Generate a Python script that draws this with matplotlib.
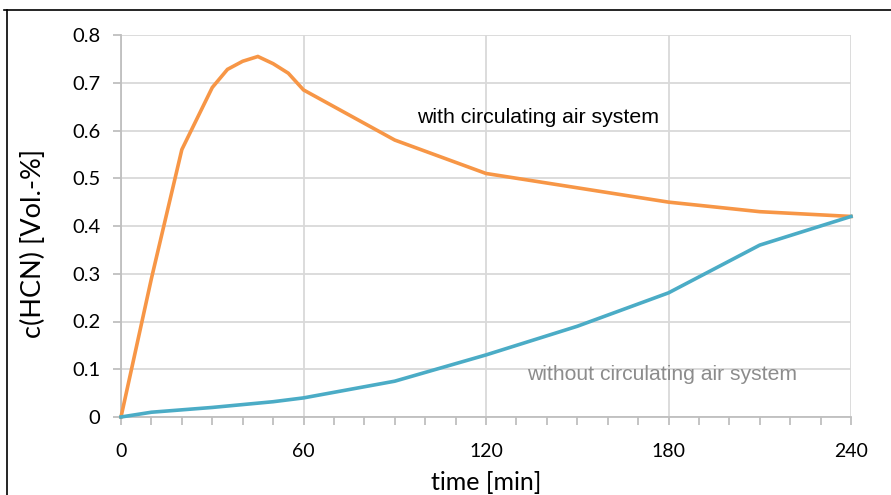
import matplotlib
matplotlib.use("Agg")
import matplotlib.pyplot as plt
from matplotlib.lines import Line2D
from matplotlib.ticker import MultipleLocator

t_with = [0, 10, 20, 30, 35, 40, 45, 50, 55, 60, 90, 120, 150, 180, 210, 240]
c_with = [0, 0.29, 0.56, 0.69, 0.728, 0.745, 0.755, 0.74, 0.72, 0.685, 0.58, 0.51, 0.48, 0.45, 0.43, 0.42]
t_without = [0, 10, 20, 30, 40, 50, 60, 90, 120, 150, 180, 210, 240]
c_without = [0, 0.01, 0.015, 0.02, 0.026, 0.032, 0.04, 0.075, 0.13, 0.19, 0.26, 0.36, 0.42]
xticks = [0, 60, 120, 180, 240]
yticks = [0, 0.1, 0.2, 0.3, 0.4, 0.5, 0.6, 0.7, 0.8]
ytick_labels = ["0", "0.1", "0.2", "0.3", "0.4", "0.5", "0.6", "0.7", "0.8"]

fig = plt.figure(figsize=(8.91, 4.95), dpi=100)
ax = fig.add_axes([121/891, 1-417/495, 730/891, 382/495])

ax.plot(t_with, c_with, color="#f79646", lw=2.6, solid_joinstyle="miter", zorder=3, clip_on=False)
ax.plot(t_without, c_without, color="#4bacc6", lw=2.6, solid_joinstyle="miter", zorder=3, clip_on=False)

ax.set_xlim(0, 240)
ax.set_ylim(0, 0.8)
ax.set_xticks(xticks)
ax.set_xticklabels([str(v) for v in xticks])
ax.xaxis.set_minor_locator(MultipleLocator(10))
ax.set_yticks(yticks)
ax.set_yticklabels(ytick_labels)

ax.grid(True, which="major", color="#d9d9d9", lw=1.3, zorder=0)
ax.set_axisbelow(True)
for s in ["top", "right"]:
    ax.spines[s].set_visible(False)
for s in ["left", "bottom"]:
    ax.spines[s].set_color("#bfbfbf")
    ax.spines[s].set_linewidth(1.3)

font = "Lato"
ax.tick_params(axis="x", which="both", direction="out", length=6, width=1.3, color="#bfbfbf", pad=13)
ax.tick_params(axis="y", which="major", direction="out", length=6, width=1.3, color="#bfbfbf", pad=9)
for lab in ax.get_xticklabels():
    lab.set_fontfamily(font)
    lab.set_fontsize(14)
    lab.set_color("black")
for lab in ax.get_yticklabels():
    lab.set_fontfamily(font)
    lab.set_fontsize(14.5)
    lab.set_color("black")

ax.set_xlabel("time [min]", fontfamily=font, fontsize=18, labelpad=8)
ax.set_ylabel("c(HCN) [Vol.-%]", fontfamily=font, fontsize=19.5)
ax.yaxis.set_label_coords(-0.103, 0.455)

ax.text(0.406, 0.785, "with circulating air system", transform=ax.transAxes,
        fontfamily="Liberation Sans", fontsize=15.3, color="black", ha="left", va="center")
ax.text(0.556, 0.11, "without circulating air system", transform=ax.transAxes,
        fontfamily="Liberation Sans", fontsize=15.2, color="#8c8c8c", ha="left", va="center")

# figure frame lines (top and left)
fig.add_artist(Line2D([4/891, 1], [1-10/495, 1-10/495], transform=fig.transFigure, color="black", lw=1.2))
fig.add_artist(Line2D([7/891, 7/891], [0, 1-10/495], transform=fig.transFigure, color="black", lw=1.2))

fig.savefig("out.png", dpi=100, facecolor="white")
